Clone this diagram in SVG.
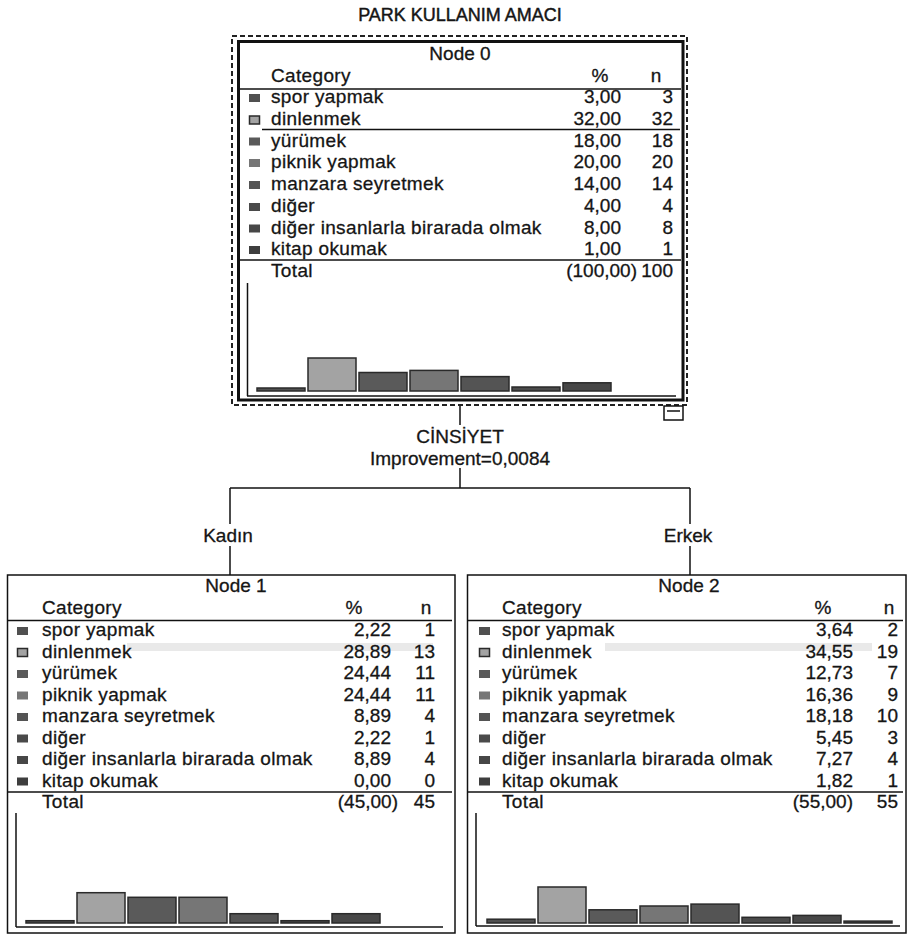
<svg xmlns="http://www.w3.org/2000/svg" width="910" height="936" viewBox="0 0 910 936">
<style>
.t{font-family:"Liberation Sans",Arial,sans-serif;font-size:19px;fill:#151515;stroke:#151515;stroke-width:0.3}
.lb{letter-spacing:0.35px}
.r{text-anchor:end}
.m{text-anchor:middle}
.ttl{font-family:"Liberation Sans",Arial,sans-serif;font-size:18px;fill:#151515;stroke:#151515;stroke-width:0.45;text-anchor:middle}
.ln{stroke:#111;stroke-width:1.5;fill:none}
.sep{stroke:#111;stroke-width:1.5}
.box{fill:#fff;stroke:#111;stroke-width:1.5}
.box0{fill:#fff;stroke:#111;stroke-width:3}
.dash{fill:none;stroke:#222;stroke-width:2;stroke-dasharray:5 3}
.band{fill:#e9e9e9}
.b{stroke:#2a2a2a;stroke-width:1.5}
.c1{fill:#505050}.c2{fill:#a3a3a3}.c3{fill:#5a5a5a}.c4{fill:#767676}
.c5{fill:#545454}.c6{fill:#4a4a4a}.c7{fill:#474747}.c8{fill:#3e3e3e}
</style>

<text class="ttl" x="460" y="21">PARK KULLANIM AMACI</text>

<g id="connectors">
<line class="ln" x1="460" y1="405" x2="460" y2="425"/>
<line class="ln" x1="460" y1="468" x2="460" y2="488"/>
<line class="ln" x1="230" y1="488" x2="690" y2="488"/>
<line class="ln" x1="230" y1="488" x2="230" y2="524"/>
<line class="ln" x1="230" y1="546" x2="230" y2="575"/>
<line class="ln" x1="690" y1="488" x2="690" y2="524"/>
<line class="ln" x1="690" y1="546" x2="690" y2="575"/>
<text class="t m" x="460" y="443">CİNSİYET</text>
<text class="t m" x="460" y="465">Improvement=0,0084</text>
<text class="t m" x="228" y="542">Kadın</text>
<text class="t m" x="688" y="542">Erkek</text>
</g>

<g id="node0">
<rect class="dash" x="232" y="36" width="455" height="369"/>
<rect class="box0" x="238.5" y="41.5" width="444.5" height="358.5"/>
<text class="t m" x="460" y="60">Node 0</text>
<text class="t lb" x="271" y="82">Category</text>
<text class="t m" x="600" y="82">%</text>
<text class="t m" x="656" y="82">n</text>
<line class="sep" x1="240" y1="89" x2="681" y2="89"/>
<rect class="c1" x="249" y="94" width="11" height="8"/>
<rect class="c2 b" x="249.5" y="116" width="10" height="8"/>
<rect class="c3" x="249" y="137.5" width="11" height="8"/>
<rect class="c4" x="249" y="159" width="11" height="8"/>
<rect class="c5" x="249" y="181" width="11" height="8"/>
<rect class="c6" x="249" y="203" width="11" height="8"/>
<rect class="c7" x="249" y="224.5" width="11" height="8"/>
<rect class="c8" x="249" y="246" width="11" height="8"/>
<text class="t lb" x="271" y="103">spor yapmak</text>
<text class="t lb" x="271" y="124.75">dinlenmek</text>
<text class="t lb" x="271" y="146.5">yürümek</text>
<text class="t lb" x="271" y="168.25">piknik yapmak</text>
<text class="t lb" x="271" y="190">manzara seyretmek</text>
<text class="t lb" x="271" y="211.75">diğer</text>
<text class="t lb" x="271" y="233.5">diğer insanlarla birarada olmak</text>
<text class="t lb" x="271" y="255.25">kitap okumak</text>
<text class="t lb" x="271" y="277">Total</text>
<text class="t r" x="621" y="103">3,00</text>
<text class="t r" x="621" y="124.75">32,00</text>
<text class="t r" x="621" y="146.5">18,00</text>
<text class="t r" x="621" y="168.25">20,00</text>
<text class="t r" x="621" y="190">14,00</text>
<text class="t r" x="621" y="211.75">4,00</text>
<text class="t r" x="621" y="233.5">8,00</text>
<text class="t r" x="621" y="255.25">1,00</text>
<text class="t r" x="637" y="277">(100,00)</text>
<text class="t r" x="673" y="103">3</text>
<text class="t r" x="673" y="124.75">32</text>
<text class="t r" x="673" y="146.5">18</text>
<text class="t r" x="673" y="168.25">20</text>
<text class="t r" x="673" y="190">14</text>
<text class="t r" x="673" y="211.75">4</text>
<text class="t r" x="673" y="233.5">8</text>
<text class="t r" x="673" y="255.25">1</text>
<text class="t r" x="673" y="277">100</text>
<line class="sep" x1="262" y1="129.5" x2="680" y2="129.5"/>
<line class="sep" x1="240" y1="260" x2="681" y2="260"/>
<line class="ln" x1="247.5" y1="283" x2="247.5" y2="396"/>
<line class="ln" x1="247" y1="396" x2="676" y2="396"/>
<rect class="c1 b" x="257" y="388" width="48" height="3"/>
<rect class="c2 b" x="308" y="358" width="48" height="33"/>
<rect class="c3 b" x="359" y="372.5" width="48" height="18.5"/>
<rect class="c4 b" x="410" y="370.4" width="48" height="20.6"/>
<rect class="c5 b" x="461" y="376.6" width="48" height="14.4"/>
<rect class="c6 b" x="512" y="387" width="48" height="4"/>
<rect class="c7 b" x="563" y="382.8" width="48" height="8.2"/>
<rect class="box" x="664" y="406" width="19" height="14"/>
<line class="ln" x1="667" y1="411" x2="680" y2="411"/>
</g>

<g id="node1">
<rect class="box" x="7.5" y="575" width="447.5" height="358"/>
<rect class="band" x="127" y="643" width="306" height="8"/>
<text class="t m" x="236" y="592">Node 1</text>
<text class="t lb" x="42" y="614">Category</text>
<text class="t m" x="354" y="614">%</text>
<text class="t m" x="426" y="614">n</text>
<line class="sep" x1="8" y1="620.5" x2="452" y2="620.5"/>
<rect class="c1" x="17" y="627" width="11" height="8"/>
<rect class="c2 b" x="17.5" y="648.5" width="10" height="8"/>
<rect class="c3" x="17" y="670" width="11" height="8"/>
<rect class="c4" x="17" y="691.5" width="11" height="8"/>
<rect class="c5" x="17" y="713" width="11" height="8"/>
<rect class="c6" x="17" y="734.5" width="11" height="8"/>
<rect class="c7" x="17" y="756" width="11" height="8"/>
<rect class="c8" x="17" y="777.5" width="11" height="8"/>
<text class="t lb" x="42" y="636">spor yapmak</text>
<text class="t lb" x="42" y="657.5">dinlenmek</text>
<text class="t lb" x="42" y="679">yürümek</text>
<text class="t lb" x="42" y="700.5">piknik yapmak</text>
<text class="t lb" x="42" y="722">manzara seyretmek</text>
<text class="t lb" x="42" y="743.5">diğer</text>
<text class="t lb" x="42" y="765">diğer insanlarla birarada olmak</text>
<text class="t lb" x="42" y="786.5">kitap okumak</text>
<text class="t lb" x="42" y="808">Total</text>
<text class="t r" x="391" y="636">2,22</text>
<text class="t r" x="391" y="657.5">28,89</text>
<text class="t r" x="391" y="679">24,44</text>
<text class="t r" x="391" y="700.5">24,44</text>
<text class="t r" x="391" y="722">8,89</text>
<text class="t r" x="391" y="743.5">2,22</text>
<text class="t r" x="391" y="765">8,89</text>
<text class="t r" x="391" y="786.5">0,00</text>
<text class="t r" x="398" y="808">(45,00)</text>
<text class="t r" x="435" y="636">1</text>
<text class="t r" x="435" y="657.5">13</text>
<text class="t r" x="435" y="679">11</text>
<text class="t r" x="435" y="700.5">11</text>
<text class="t r" x="435" y="722">4</text>
<text class="t r" x="435" y="743.5">1</text>
<text class="t r" x="435" y="765">4</text>
<text class="t r" x="435" y="786.5">0</text>
<text class="t r" x="435" y="808">45</text>
<line class="sep" x1="8" y1="792" x2="452" y2="792"/>
<line class="ln" x1="16" y1="813" x2="16" y2="927"/>
<line class="ln" x1="16" y1="927" x2="443" y2="927"/>
<rect class="c1 b" x="26" y="920.7" width="48" height="2.3"/>
<rect class="c2 b" x="77" y="892.7" width="48" height="30.3"/>
<rect class="c3 b" x="128" y="897.3" width="48" height="25.7"/>
<rect class="c4 b" x="179" y="897.3" width="48" height="25.7"/>
<rect class="c5 b" x="230" y="913.7" width="48" height="9.3"/>
<rect class="c6 b" x="281" y="920.7" width="48" height="2.3"/>
<rect class="c7 b" x="332" y="913.7" width="48" height="9.3"/>
</g>

<g id="node2">
<rect class="box" x="467.5" y="575" width="438.5" height="358"/>
<rect class="band" x="605" y="643" width="267" height="8"/>
<text class="t m" x="689" y="592">Node 2</text>
<text class="t lb" x="502" y="614">Category</text>
<text class="t m" x="823" y="614">%</text>
<text class="t m" x="889" y="614">n</text>
<line class="sep" x1="468" y1="620.5" x2="903" y2="620.5"/>
<rect class="c1" x="479" y="627" width="11" height="8"/>
<rect class="c2 b" x="479.5" y="648.5" width="10" height="8"/>
<rect class="c3" x="479" y="670" width="11" height="8"/>
<rect class="c4" x="479" y="691.5" width="11" height="8"/>
<rect class="c5" x="479" y="713" width="11" height="8"/>
<rect class="c6" x="479" y="734.5" width="11" height="8"/>
<rect class="c7" x="479" y="756" width="11" height="8"/>
<rect class="c8" x="479" y="777.5" width="11" height="8"/>
<text class="t lb" x="502" y="636">spor yapmak</text>
<text class="t lb" x="502" y="657.5">dinlenmek</text>
<text class="t lb" x="502" y="679">yürümek</text>
<text class="t lb" x="502" y="700.5">piknik yapmak</text>
<text class="t lb" x="502" y="722">manzara seyretmek</text>
<text class="t lb" x="502" y="743.5">diğer</text>
<text class="t lb" x="502" y="765">diğer insanlarla birarada olmak</text>
<text class="t lb" x="502" y="786.5">kitap okumak</text>
<text class="t lb" x="502" y="808">Total</text>
<text class="t r" x="853" y="636">3,64</text>
<text class="t r" x="853" y="657.5">34,55</text>
<text class="t r" x="853" y="679">12,73</text>
<text class="t r" x="853" y="700.5">16,36</text>
<text class="t r" x="853" y="722">18,18</text>
<text class="t r" x="853" y="743.5">5,45</text>
<text class="t r" x="853" y="765">7,27</text>
<text class="t r" x="853" y="786.5">1,82</text>
<text class="t r" x="853" y="808">(55,00)</text>
<text class="t r" x="898" y="636">2</text>
<text class="t r" x="898" y="657.5">19</text>
<text class="t r" x="898" y="679">7</text>
<text class="t r" x="898" y="700.5">9</text>
<text class="t r" x="898" y="722">10</text>
<text class="t r" x="898" y="743.5">3</text>
<text class="t r" x="898" y="765">4</text>
<text class="t r" x="898" y="786.5">1</text>
<text class="t r" x="898" y="808">55</text>
<line class="sep" x1="468" y1="792" x2="903" y2="792"/>
<line class="ln" x1="476" y1="813" x2="476" y2="926"/>
<line class="ln" x1="476" y1="926" x2="900" y2="926"/>
<rect class="c1 b" x="487" y="919.2" width="48" height="3.8"/>
<rect class="c2 b" x="538" y="887" width="48" height="36"/>
<rect class="c3 b" x="589" y="909.8" width="48" height="13.2"/>
<rect class="c4 b" x="640" y="906" width="48" height="17"/>
<rect class="c5 b" x="691" y="904.1" width="48" height="18.9"/>
<rect class="c6 b" x="742" y="917.3" width="48" height="5.7"/>
<rect class="c7 b" x="793" y="915.4" width="48" height="7.6"/>
<rect class="c8 b" x="844" y="921.1" width="48" height="1.9"/>
</g>
</svg>
